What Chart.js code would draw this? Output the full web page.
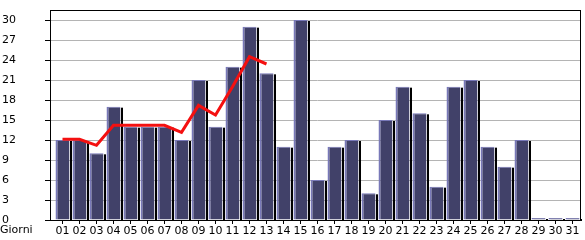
<!DOCTYPE html>
<html>
<head>
<meta charset="utf-8">
<script src="https://cdn.jsdelivr.net/npm/chart.js@4/dist/chart.umd.min.js"></script>
<style>
html,body{margin:0;padding:0;background:#fff;}
#wrap{width:585px;height:240px;position:relative;}
</style>
</head>
<body>
<div id="wrap"><canvas id="c" width="585" height="240"></canvas></div>
<script>
const days = ["01","02","03","04","05","06","07","08","09","10","11","12","13","14","15","16","17","18","19","20","21","22","23","24","25","26","27","28","29","30","31"];
const visits = [12,12,10,17,14,14,14,12,21,14,23,29,22,11,30,6,11,12,4,15,20,16,5,20,21,11,8,12,0,0,0];
const trend = [12.1,12.1,11.2,14.2,14.2,14.2,14.2,13.15,17.2,15.75,20,24.5,23.4,null,null,null,null,null,null,null,null,null,null,null,null,null,null,null,null,null,null];
const yTicks = [0,3,6,9,12,15,18,21,24,27,30];
const xAxisTitle = "Giorni";

const FONT = {family: "'DejaVu Sans', Verdana, sans-serif", size: 11};

const framePlugin = {
  id: 'frame',
  afterDatasetDraw(chart, args) {
    if (args.index !== 0) return;
    const ctx = chart.ctx;
    const base = chart.scales.y.getPixelForValue(0);
    ctx.save();
    ctx.fillStyle = '#000';
    args.meta.data.forEach(bar => {
      const p = bar.getProps(['x','y','width'], true);
      const right = Math.round(p.x + p.width / 2);
      const top = Math.min(p.y + 1, base - 1);
      ctx.fillRect(right, top, 2, base - top);
    });
    ctx.restore();
  },
  afterDraw(chart) {
    const ctx = chart.ctx;
    const a = chart.chartArea;
    const ys = chart.scales.y;
    ctx.save();
    ctx.lineWidth = 1;
    yTicks.forEach(v => {
      const py = Math.round(ys.getPixelForValue(v)) + 0.5;
      ctx.strokeStyle = '#b4b4b4';
      ctx.beginPath(); ctx.moveTo(50, py); ctx.lineTo(a.left, py); ctx.stroke();
      ctx.strokeStyle = '#000';
      ctx.beginPath(); ctx.moveTo(45, py); ctx.lineTo(50, py); ctx.stroke();
    });
    ctx.strokeStyle = '#000';
    ctx.strokeRect(50.5, Math.round(a.top) + 0.5, Math.round(a.right) - 51, Math.round(a.bottom - a.top));
    ctx.fillStyle = '#000';
    ctx.font = FONT.size + 'px ' + FONT.family;
    ctx.textBaseline = 'top';
    ctx.textAlign = 'left';
    ctx.fillText(xAxisTitle, 0, 225);
    ctx.restore();
  }
};

new Chart(document.getElementById('c'), {
  data: {
    labels: days,
    datasets: [
      {
        type: 'bar',
        data: visits,
        backgroundColor: '#414169',
        borderColor: '#7878b8',
        borderWidth: {top: 1, left: 2, right: 0, bottom: 0},
        borderSkipped: false,
        minBarLength: 2,
        barPercentage: 14/17,
        categoryPercentage: 1,
        order: 1
      },
      {
        type: 'line',
        data: trend,
        borderColor: '#f41010',
        borderWidth: 3,
        pointRadius: 0,
        tension: 0,
        spanGaps: false,
        order: 0
      }
    ]
  },
  options: {
    responsive: false,
    animation: false,
    devicePixelRatio: 1,
    layout: {padding: {top: 10, right: 4, left: 2, bottom: 0}},
    plugins: {legend: {display: false}, tooltip: {enabled: false}},
    scales: {
      x: {
        type: 'category',
        offset: true,
        grid: {display: true, drawOnChartArea: false, drawTicks: true, tickLength: 4, color: '#000', offset: false},
        border: {display: true, color: '#000'},
        ticks: {color: '#000', font: FONT, padding: 1, maxRotation: 0, autoSkip: false},
        afterFit(s) { s.height = 20; }
      },
      y: {
        min: 0,
        max: 31.5,
        grid: {color: '#b4b4b4', drawTicks: false},
        border: {display: false},
        ticks: {stepSize: 3, color: '#000', font: FONT, crossAlign: 'far', padding: 0},
        afterBuildTicks(s) { s.ticks = yTicks.map(v => ({value: v})); },
        afterFit(s) { s.width = 52; }
      }
    }
  },
  plugins: [framePlugin]
});
</script>
</body>
</html>
